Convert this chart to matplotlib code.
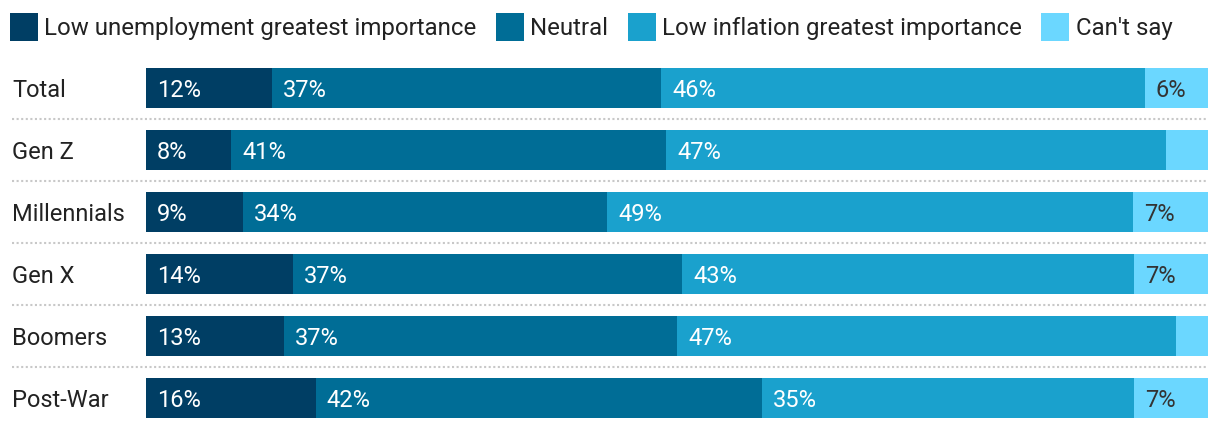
import numpy as np
import matplotlib.pyplot as plt
from matplotlib.patches import Patch
from matplotlib.transforms import blended_transform_factory

plt.rcParams['font.family'] = ['Roboto', 'DejaVu Sans']

groups = ["Total", "Gen Z", "Millennials", "Gen X", "Boomers", "Post-War"]
series = ["Low unemployment greatest importance", "Neutral",
          "Low inflation greatest importance", "Can't say"]
low_unemp = [12, 8, 9, 14, 13, 16]
neutral = [37, 41, 34, 37, 37, 42]
low_infl = [46, 47, 49, 43, 47, 35]
cant_say = [6, 4, 7, 7, 3, 7]

colors = ["#003e64", "#006d96", "#1aa1cd", "#6bd7ff"]
label_colors = ["white", "white", "white", "#333333"]
text_color = "#222222"

W, H = 1220, 430
fig = plt.figure(figsize=(W / 100, H / 100), dpi=100)
ax = fig.add_axes([146 / W, 1 - 429 / H, 1062 / W, 372 / H])

vals = np.array([low_unemp, neutral, low_infl, cant_say], dtype=float)
shares = vals / vals.sum(axis=0) * 100
y = np.arange(len(groups))
left = np.zeros(len(groups))
fs = 17

for i, name in enumerate(series):
    ax.barh(y, shares[i], left=left, height=0.645, color=colors[i], label=name)
    for j in range(len(groups)):
        if vals[i, j] >= 5:
            ax.annotate(f"{vals[i, j]:.0f}%", (left[j], y[j]), xytext=(11, 0),
                        textcoords="offset pixels", ha="left", va="center_baseline",
                        color=label_colors[i], fontsize=fs)
    left += shares[i]

ax.set_xlim(0, 100)
ax.set_ylim(len(groups) - 0.5, -0.5)
ax.axis("off")

# row labels and dotted separators
trans = blended_transform_factory(fig.transFigure, ax.transData)
for j, g in enumerate(groups):
    ax.text(12 / W, y[j], g, transform=trans, ha="left", va="center_baseline",
            fontsize=fs, color=text_color)
for j in range(len(groups) - 1):
    ax.plot([12 / W, 1208 / W], [j + 0.5, j + 0.5], transform=trans, clip_on=False,
            color="#c8c8c8", lw=1.5, linestyle=(0, (1, 1.2)))

handles = [Patch(facecolor=c, edgecolor="none") for c in colors]
fig.legend(handles, series, loc="upper left", bbox_to_anchor=(0.0, 0.992),
           ncol=4, frameon=False, fontsize=17.3, handlelength=1.17, handleheight=1.4,
           handletextpad=0.27, columnspacing=0.8, borderpad=0.2, borderaxespad=0.2,
           labelcolor=text_color)

fig.savefig("out.png", dpi=100)
